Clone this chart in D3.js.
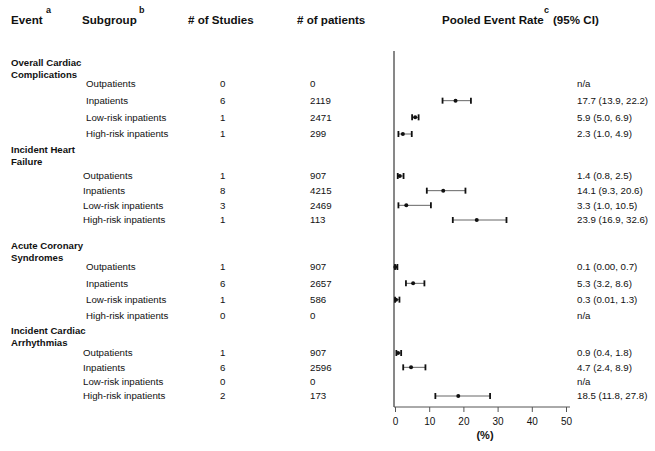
<!DOCTYPE html>
<html>
<head>
<meta charset="utf-8">
<script src="https://cdn.jsdelivr.net/npm/d3@7"></script>
<style>
  html, body { margin: 0; padding: 0; background: #fff; }
  svg { display: block; }
  text { font-family: Arial, "Liberation Sans", Helvetica, sans-serif; fill: #111; }
</style>
</head>
<body>
<svg id="chart" width="655" height="451"></svg>
<script>
// ---------------- data ----------------
const events = [
  ["Overall Cardiac", "Complications"],
  ["Incident Heart", "Failure"],
  ["Acute Coronary", "Syndromes"],
  ["Incident Cardiac", "Arrhythmias"]
];
const subgroups = ["Outpatients", "Inpatients", "Low-risk inpatients", "High-risk inpatients"];
const studies = [
  [0, 6, 1, 1],
  [1, 8, 3, 1],
  [1, 6, 1, 0],
  [1, 6, 0, 2]
];
const patients = [
  [0, 2119, 2471, 299],
  [907, 4215, 2469, 113],
  [907, 2657, 586, 0],
  [907, 2596, 0, 173]
];
const rates = [
  [null, 17.7, 5.9, 2.3],
  [1.4, 14.1, 3.3, 23.9],
  [0.1, 5.3, 0.3, null],
  [0.9, 4.7, null, 18.5]
];
const lower = [
  [null, 13.9, 5.0, 1.0],
  [0.8, 9.3, 1.0, 16.9],
  [0.00, 3.2, 0.01, null],
  [0.4, 2.4, null, 11.8]
];
const upper = [
  [null, 22.2, 6.9, 4.9],
  [2.5, 20.6, 10.5, 32.6],
  [0.7, 8.6, 1.3, null],
  [1.8, 8.9, null, 27.8]
];
const rateLabels = [
  ["n/a", "17.7 (13.9, 22.2)", "5.9 (5.0, 6.9)", "2.3 (1.0, 4.9)"],
  ["1.4 (0.8, 2.5)", "14.1 (9.3, 20.6)", "3.3 (1.0, 10.5)", "23.9 (16.9, 32.6)"],
  ["0.1 (0.00, 0.7)", "5.3 (3.2, 8.6)", "0.3 (0.01, 1.3)", "n/a"],
  ["0.9 (0.4, 1.8)", "4.7 (2.4, 8.9)", "n/a", "18.5 (11.8, 27.8)"]
];
const xTicks = [0, 10, 20, 30, 40, 50];

// ---------------- layout ----------------
const groupTitleY = [63, 150, 246, 331];
const groupRowRange = [[84, 134], [176, 220], [267, 316], [353, 396]];
const groupSubX = [86, 83, 86, 83];

const svg = d3.select("#chart");
const x = d3.scaleLinear().domain([0, 50]).range([395, 566]);
const axisY = 407;

// headers
const hdr = svg.append("g").attr("font-weight", "bold").attr("font-size", "11.6px");
hdr.append("text").attr("x", 11).attr("y", 24).text("Event");
hdr.append("text").attr("x", 82).attr("y", 24).text("Subgroup");
hdr.append("text").attr("x", 188).attr("y", 24).text("# of Studies");
hdr.append("text").attr("x", 297).attr("y", 24).text("# of patients");
hdr.append("text").attr("x", 442).attr("y", 24).text("Pooled Event Rate");
hdr.append("text").attr("x", 553).attr("y", 24).text("(95% CI)");
const sup = svg.append("g").attr("font-weight", "bold").attr("font-size", "9px");
sup.append("text").attr("x", 46).attr("y", 13).text("a");
sup.append("text").attr("x", 139).attr("y", 13).text("b");
sup.append("text").attr("x", 544).attr("y", 13).text("c");

// rows
const rows = [];
events.forEach((ev, g) => {
  subgroups.forEach((s, i) => {
    rows.push({g, i, sub: s, n: studies[g][i], p: patients[g][i],
      r: rates[g][i], lo: lower[g][i], hi: upper[g][i], lab: rateLabels[g][i]});
  });
});
const yScales = groupRowRange.map(r => d3.scaleLinear().domain([0, 3]).range(r));
const yOf = d => yScales[d.g](d.i);

// event titles
const et = svg.append("g").attr("font-weight", "bold").attr("font-size", "9.6px");
events.forEach((lines, g) => {
  lines.forEach((ln, k) => {
    et.append("text").attr("x", 11).attr("y", groupTitleY[g] + k * 11.5).attr("dy", "0.35em").text(ln);
  });
});

const body = svg.append("g").attr("font-size", "9.7px");
const rowG = body.selectAll("g.row").data(rows).join("g").attr("class", "row");
rowG.append("text").attr("x", d => groupSubX[d.g]).attr("y", yOf).attr("dy", "0.35em").text(d => d.sub);
rowG.append("text").attr("x", 220).attr("y", yOf).attr("dy", "0.35em").text(d => d.n);
rowG.append("text").attr("x", 310).attr("y", yOf).attr("dy", "0.35em").text(d => d.p);
rowG.append("text").attr("x", 577).attr("y", yOf).attr("dy", "0.35em").text(d => d.lab);

// axes
svg.append("line").attr("x1", x(0) - 1).attr("x2", x(0) - 1).attr("y1", 51).attr("y2", axisY)
  .attr("stroke", "#111").attr("stroke-width", 1);
const axis = d3.axisBottom(x).tickValues(xTicks).tickSize(5).tickPadding(6).tickSizeOuter(0);
const ax = svg.append("g").attr("transform", `translate(0,${axisY})`).call(axis);
ax.select(".domain").attr("stroke", "#555").attr("d", `M${x(0) - 1},0H570`);
ax.selectAll(".tick line").attr("stroke", "#555");
ax.selectAll(".tick text").attr("font-size", "10px").attr("fill", "#111")
  .attr("font-family", "Arial, 'Liberation Sans', sans-serif");
svg.append("text").attr("x", 485).attr("y", 439).attr("text-anchor", "middle")
  .attr("font-weight", "bold").attr("font-size", "11px").text("(%)");

// forest marks
const ci = svg.append("g").selectAll("g").data(rows.filter(d => d.r !== null)).join("g");
ci.append("line").attr("x1", d => x(d.lo)).attr("x2", d => x(d.hi)).attr("y1", yOf).attr("y2", yOf)
  .attr("stroke", "#666").attr("stroke-width", 1);
ci.append("line").attr("x1", d => x(d.lo)).attr("x2", d => x(d.lo))
  .attr("y1", d => yOf(d) - 3).attr("y2", d => yOf(d) + 3).attr("stroke", "#111").attr("stroke-width", 1.8);
ci.append("line").attr("x1", d => x(d.hi)).attr("x2", d => x(d.hi))
  .attr("y1", d => yOf(d) - 3).attr("y2", d => yOf(d) + 3).attr("stroke", "#111").attr("stroke-width", 1.8);
ci.append("circle").attr("cx", d => x(d.r)).attr("cy", yOf).attr("r", 2).attr("fill", "#111");
</script>
</body>
</html>
